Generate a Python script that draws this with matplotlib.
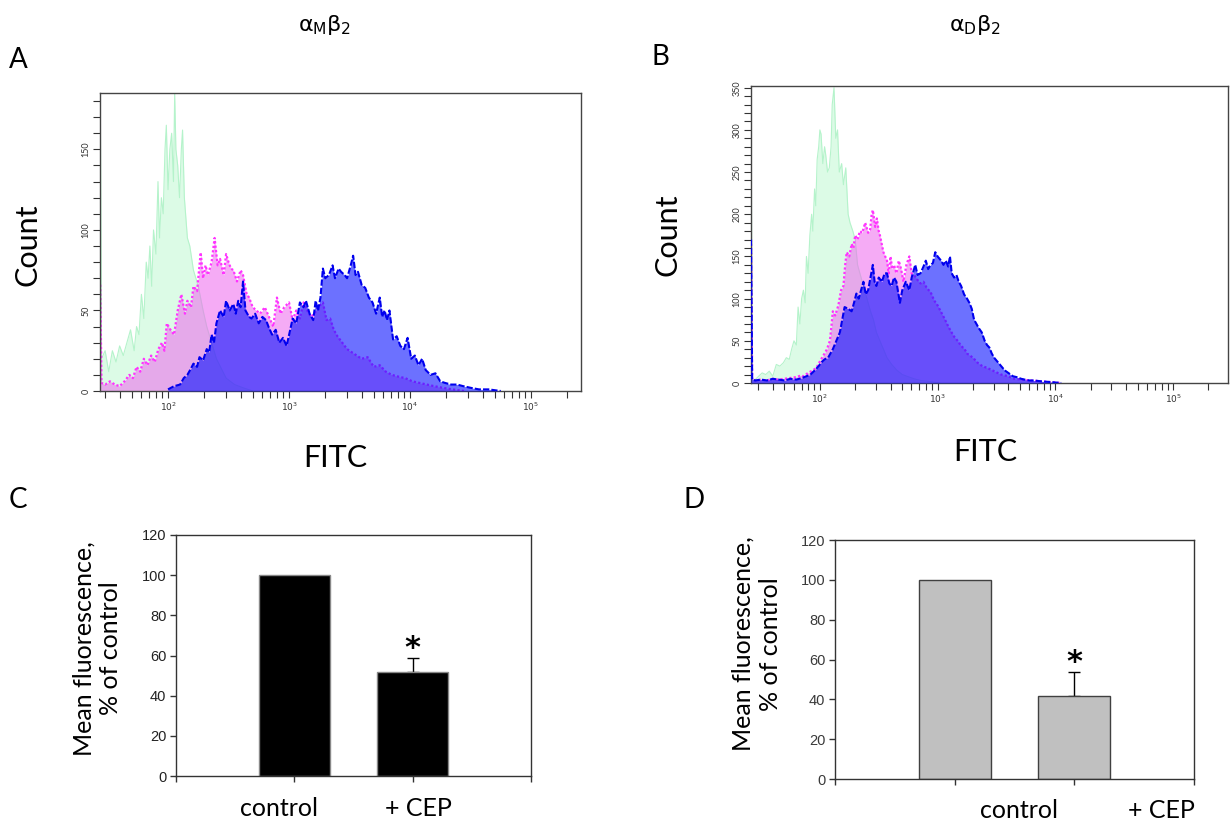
import numpy as np
import matplotlib
matplotlib.use("Agg")
import matplotlib.pyplot as plt
from matplotlib.ticker import LogLocator, MultipleLocator, NullFormatter

# ---- flow cytometry histograms: log10(FITC) bin positions and counts ----
# panel A (alpha_M beta_2)
ga_x = [1.44, 1.45, 1.48, 1.51, 1.54, 1.57, 1.60, 1.63, 1.66, 1.69, 1.72, 1.74, 1.76, 1.78, 1.80,
        1.82, 1.835, 1.85, 1.865, 1.88, 1.90, 1.917, 1.93, 1.945, 1.96, 1.975, 1.986, 2.0, 2.015,
        2.03, 2.045, 2.055, 2.065, 2.08, 2.095, 2.11, 2.12, 2.135, 2.145, 2.16, 2.18, 2.21, 2.25,
        2.29, 2.32, 2.36, 2.40, 2.44, 2.48, 2.55, 2.62, 2.70]
ga_y = [190, 20, 25, 12, 25, 18, 28, 22, 30, 38, 25, 40, 35, 60, 45, 80, 70, 90, 65, 100, 85, 130,
        95, 120, 110, 150, 165, 125, 150, 160, 130, 185, 150, 140, 120, 150, 162, 120, 110, 95, 90,
        75, 65, 50, 40, 30, 20, 14, 8, 4, 2, 0]

pa_x = [1.44, 1.45, 1.48, 1.52, 1.56, 1.60, 1.64, 1.68, 1.71, 1.74, 1.77, 1.80, 1.83, 1.86, 1.89,
        1.92, 1.95, 1.97, 1.99, 2.02, 2.05, 2.08, 2.11, 2.14, 2.16, 2.19, 2.21, 2.24, 2.27, 2.29,
        2.31, 2.33, 2.36, 2.385, 2.41, 2.43, 2.46, 2.48, 2.50, 2.52, 2.54, 2.57, 2.60, 2.62, 2.65,
        2.67, 2.70, 2.73, 2.76, 2.80, 2.84, 2.87, 2.90, 2.93, 2.96, 3.0, 3.03, 3.06, 3.09, 3.12,
        3.15, 3.18, 3.21, 3.24, 3.28, 3.31, 3.34, 3.37, 3.40, 3.44, 3.48, 3.52, 3.56, 3.60, 3.65,
        3.70, 3.75, 3.80, 3.85, 3.90, 3.96, 4.02, 4.08, 4.14, 4.20, 4.27, 4.35, 4.45]
pa_y = [66, 5, 4, 6, 4, 3, 6, 10, 8, 15, 12, 20, 16, 22, 18, 26, 30, 25, 42, 38, 35, 50, 60, 48, 56,
        52, 65, 62, 86, 70, 78, 72, 80, 95, 78, 82, 72, 85, 80, 76, 75, 68, 75, 72, 60, 58, 52, 50,
        48, 52, 45, 40, 58, 48, 52, 55, 44, 50, 45, 55, 50, 46, 48, 52, 55, 44, 45, 38, 34, 30, 26,
        24, 22, 20, 21, 15, 16, 12, 10, 9, 8, 6, 5, 4, 3, 2, 1, 0]

ba_x = [2.0, 2.05, 2.10, 2.13, 2.16, 2.19, 2.21, 2.24, 2.26, 2.29, 2.32, 2.34, 2.36, 2.38, 2.40,
        2.43, 2.46, 2.48, 2.51, 2.54, 2.56, 2.58, 2.60, 2.62, 2.64, 2.67, 2.69, 2.72, 2.75, 2.78,
        2.81, 2.83, 2.86, 2.89, 2.92, 2.95, 2.98, 3.01, 3.03, 3.06, 3.09, 3.12, 3.14, 3.17, 3.20,
        3.22, 3.24, 3.26, 3.28, 3.30, 3.33, 3.36, 3.38, 3.41, 3.43, 3.46, 3.48, 3.51, 3.53, 3.55,
        3.57, 3.60, 3.63, 3.66, 3.69, 3.72, 3.75, 3.77, 3.79, 3.81, 3.83, 3.86, 3.89, 3.92, 3.95,
        3.98, 4.01, 4.04, 4.07, 4.10, 4.13, 4.17, 4.21, 4.25, 4.29, 4.34, 4.39, 4.44, 4.50, 4.57,
        4.65, 4.75]
ba_y = [1, 3, 4, 8, 10, 14, 17, 15, 21, 19, 26, 24, 35, 30, 42, 50, 46, 56, 50, 54, 48, 56, 52, 68,
        50, 46, 45, 48, 42, 46, 44, 40, 35, 38, 30, 33, 28, 38, 45, 42, 55, 52, 56, 48, 44, 56, 50,
        58, 76, 70, 72, 78, 70, 76, 74, 72, 70, 78, 84, 72, 74, 66, 64, 58, 55, 48, 58, 46, 50, 44,
        50, 32, 34, 28, 26, 33, 20, 22, 16, 20, 13, 10, 11, 6, 5, 4, 4, 3, 2, 1, 1, 0]

# panel B (alpha_D beta_2)
gb_x = [1.415, 1.425, 1.45, 1.48, 1.51, 1.54, 1.57, 1.60, 1.63, 1.66, 1.69, 1.715, 1.74, 1.76,
        1.78, 1.80, 1.815, 1.83, 1.845, 1.86, 1.875, 1.886, 1.90, 1.915, 1.93, 1.94, 1.955, 1.965,
        1.977, 1.99, 2.0, 2.01, 2.025, 2.04, 2.05, 2.065, 2.08, 2.095, 2.105, 2.12, 2.135, 2.15,
        2.165, 2.185, 2.20, 2.22, 2.24, 2.256, 2.28, 2.30, 2.32, 2.34, 2.37, 2.40, 2.43, 2.455,
        2.48, 2.51, 2.54, 2.57, 2.61, 2.655, 2.70, 2.74, 2.80, 2.855, 2.92, 2.97, 3.02]
gb_y = [360, 5, 4, 8, 12, 10, 14, 8, 22, 20, 24, 30, 28, 40, 50, 45, 90, 70, 100, 110, 95, 150, 130,
        175, 200, 180, 230, 210, 265, 280, 300, 295, 260, 280, 270, 250, 255, 280, 330, 350, 290,
        300, 250, 260, 235, 255, 200, 190, 180, 170, 140, 130, 115, 100, 85, 75, 60, 50, 40, 30,
        22, 15, 10, 8, 5, 3, 2, 1, 0]

pb_x = [1.415, 1.425, 1.46, 1.50, 1.55, 1.60, 1.65, 1.70, 1.75, 1.80, 1.84, 1.86, 1.90, 1.94, 1.97,
        1.986, 2.01, 2.04, 2.06, 2.085, 2.10, 2.11, 2.13, 2.157, 2.18, 2.20, 2.215, 2.228, 2.25,
        2.27, 2.285, 2.30, 2.32, 2.34, 2.36, 2.385, 2.41, 2.427, 2.44, 2.45, 2.47, 2.484, 2.50,
        2.51, 2.525, 2.54, 2.555, 2.57, 2.585, 2.60, 2.615, 2.63, 2.65, 2.67, 2.69, 2.71, 2.735,
        2.76, 2.78, 2.80, 2.83, 2.855, 2.88, 2.91, 2.94, 2.97, 3.0, 3.03, 3.06, 3.08, 3.11, 3.14,
        3.17, 3.20, 3.23, 3.25, 3.30, 3.34, 3.38, 3.42, 3.48, 3.54, 3.60, 3.65, 3.72, 3.79, 3.88,
        3.97, 4.05]
pb_y = [170, 4, 3, 4, 3, 5, 4, 5, 6, 7, 9, 8, 12, 15, 18, 22, 28, 35, 40, 50, 70, 85, 80, 92, 110,
        115, 140, 155, 150, 165, 160, 175, 170, 180, 178, 190, 178, 182, 200, 205, 185, 195, 180,
        175, 165, 155, 150, 145, 130, 150, 135, 140, 130, 145, 135, 120, 140, 150, 130, 128, 122,
        118, 120, 112, 108, 98, 92, 84, 76, 70, 62, 55, 50, 44, 40, 35, 30, 24, 20, 18, 14, 10, 8,
        5, 4, 3, 2, 1, 0]

bb_x = [1.415, 1.425, 1.45, 1.50, 1.55, 1.60, 1.65, 1.70, 1.75, 1.80, 1.85, 1.886, 1.92, 1.957,
        1.99, 2.01, 2.04, 2.07, 2.09, 2.11, 2.14, 2.17, 2.19, 2.21, 2.24, 2.27, 2.29, 2.31, 2.33,
        2.35, 2.37, 2.39, 2.41, 2.43, 2.45, 2.465, 2.48, 2.50, 2.527, 2.55, 2.57, 2.59, 2.61, 2.63,
        2.65, 2.68, 2.70, 2.73, 2.745, 2.76, 2.78, 2.81, 2.83, 2.855, 2.88, 2.90, 2.92, 2.94, 2.96,
        2.98, 3.0, 3.03, 3.05, 3.07, 3.09, 3.105, 3.12, 3.14, 3.16, 3.18, 3.20, 3.225, 3.25, 3.27,
        3.29, 3.31, 3.33, 3.35, 3.375, 3.40, 3.42, 3.44, 3.46, 3.48, 3.51, 3.54, 3.57, 3.60, 3.64,
        3.67, 3.71, 3.74, 3.78, 3.82, 3.88, 3.97, 4.05]
bb_y = [170, 4, 3, 4, 3, 5, 4, 3, 5, 4, 6, 8, 10, 15, 20, 24, 28, 30, 35, 40, 50, 60, 75, 90, 88,
        85, 95, 106, 100, 110, 120, 105, 110, 125, 140, 120, 115, 125, 120, 130, 130, 118, 115, 125,
        120, 95, 110, 120, 115, 110, 125, 140, 128, 130, 138, 145, 135, 140, 142, 155, 150, 145,
        140, 145, 138, 150, 130, 125, 128, 120, 115, 105, 100, 95, 88, 75, 70, 65, 60, 50, 45, 42,
        35, 30, 25, 20, 15, 12, 8, 7, 5, 4, 3, 3, 2, 1, 0]

# ---- bar charts ----
bar_labels = ["control", "+ CEP"]
c_values = [100, 52]
c_err = [0, 7]
d_values = [100, 41.5]
d_err = [0, 12]

plt.rcParams['font.family'] = ['Lato', 'DejaVu Sans']
plt.rcParams['mathtext.fontset'] = 'custom'
plt.rcParams['mathtext.rm'] = 'DejaVu Sans'
plt.rcParams['mathtext.it'] = 'DejaVu Sans'
plt.rcParams['mathtext.bf'] = 'DejaVu Sans:bold'

W, H = 1230, 821
fig = plt.figure(figsize=(W / 100, H / 100), dpi=100)


def px_axes(x0, y0, x1, y1):
    return fig.add_axes([x0 / W, 1 - y1 / H, (x1 - x0) / W, (y1 - y0) / H])


def flow_hist(ax, series, xlim, ylim, ymajor):
    (gx, gy), (px, py), (bx, by) = series
    gx, px, bx = 10 ** np.array(gx), 10 ** np.array(px), 10 ** np.array(bx)
    ax.fill_between(gx, gy, color='#dcfbe6', lw=0, zorder=1)
    ax.plot(gx, gy, color='#b5f3cb', lw=0.8, zorder=1.5)
    ax.fill_between(px, py, color='#ee66ee', alpha=0.55, lw=0, zorder=2)
    ax.plot(px, py, color='#ff33ff', lw=1.6, ls=(0, (1, 1)), zorder=2.5)
    ax.fill_between(bx, by, color='#0a12ff', alpha=0.6, lw=0, zorder=3)
    ax.plot(bx, by, color='#0000ee', lw=1.5, ls=(0, (3, 1)), zorder=3.5)
    ax.set_xscale('log')
    ax.set_xlim(*xlim)
    ax.set_ylim(*ylim)
    ax.set_xticks([1e2, 1e3, 1e4, 1e5])
    ax.set_xticklabels([r'$10^2$', r'$10^3$', r'$10^4$', r'$10^5$'])
    ax.xaxis.set_minor_locator(LogLocator(base=10, subs=np.arange(2, 10)))
    ax.xaxis.set_minor_formatter(NullFormatter())
    ax.yaxis.set_major_locator(MultipleLocator(ymajor))
    ax.yaxis.set_minor_locator(MultipleLocator(10))
    ax.tick_params(which='both', direction='out', length=5, width=0.8, color='#333333',
                   labelsize=6.5, labelcolor='#333333', pad=2)
    for lab in ax.get_yticklabels():
        lab.set_rotation(90)
        lab.set_va('center')
    for s in ax.spines.values():
        s.set_color('#444444')
        s.set_linewidth(1.0)


axA = px_axes(100, 93, 581, 391)
flow_hist(axA, [(ga_x, ga_y), (pa_x, pa_y), (ba_x, ba_y)], (27.4, 2.59e5), (0, 185), 50)
axB = px_axes(751, 86, 1228, 383)
flow_hist(axB, [(gb_x, gb_y), (pb_x, pb_y), (bb_x, bb_y)], (26, 2.93e5), (0, 352), 50)


def bar_panel(ax, vals, errs, fc, ec, lab_x, lab_y, ylab_xy, tick_col):
    x = np.arange(1, len(vals) + 1)
    ax.bar(x, vals, width=0.6, color=fc, edgecolor=ec, linewidth=1, zorder=2)
    ax.errorbar(x[1], vals[1], yerr=[[0], [errs[1]]], fmt='none', ecolor='black',
                elinewidth=1, capsize=4, capthick=1, zorder=1)
    ax.text(x[1], vals[1] + errs[1] - 2.5, '*', ha='center', va='bottom', fontsize=22,
            fontweight='bold', family='DejaVu Sans')
    ax.set_xlim(0, 3)
    ax.set_ylim(0, 120)
    ax.set_yticks(range(0, 121, 20))
    ax.set_xticks([0, 1, 2, 3])
    ax.set_xticklabels([])
    ax.tick_params(direction='out', length=4, width=1, color='#333333', labelsize=10.5,
                   labelcolor=tick_col, pad=3)
    for lab in ax.get_yticklabels():
        lab.set_family('Liberation Sans')
    for s in ax.spines.values():
        s.set_color('#333333')
        s.set_linewidth(1.0)
    for lx, lab in zip(lab_x, bar_labels):
        ax.text(lx, lab_y, lab, transform=ax.get_xaxis_transform(), ha='center', va='center',
                fontsize=18)
    ax.set_ylabel('Mean fluorescence,\n% of control', fontsize=18, linespacing=1.2)
    ax.yaxis.set_label_coords(*ylab_xy)


axC = px_axes(176, 535, 531, 776)
bar_panel(axC, c_values, c_err, 'black', '#888888', [0.87, 2.05], -0.133, (-0.152, 0.53), '#222222')
axD = px_axes(835, 540, 1194, 779)
bar_panel(axD, d_values, d_err, '#c0c0c0', '#404040', [1.54, 2.73], -0.13, (-0.148, 0.565), '#3a3a3a')


def ftext(px, py, s, **kw):
    fig.text(px / W, 1 - py / H, s, ha='center', va='center', **kw)


ftext(18, 60, 'A', fontsize=20)
ftext(660, 57, 'B', fontsize=20)
ftext(18, 500, 'C', fontsize=20)
ftext(694, 500, 'D', fontsize=20)
ftext(325, 25, r'$\alpha_{\mathrm{M}}\beta_2$', fontsize=16)
ftext(975, 25, r'$\alpha_{\mathrm{D}}\beta_2$', fontsize=16)
ftext(27, 245, 'Count', fontsize=22, rotation=90)
ftext(335, 458, 'FITC', fontsize=22)
ftext(668, 235, 'Count', fontsize=22, rotation=90)
ftext(985, 452, 'FITC', fontsize=22)

fig.savefig('out.png', dpi=100)
